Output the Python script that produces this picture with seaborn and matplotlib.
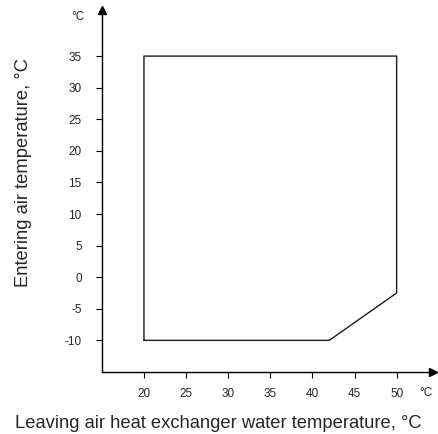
import matplotlib
matplotlib.use("Agg")
import matplotlib.pyplot as plt
import seaborn as sns
import pandas as pd

# operating envelope corners (water temp, air temp), closed polygon
water_temp = [20, 20, 50, 50, 42, 20]
air_temp = [-10, 35, 35, -2.5, -10, -10]
x_ticks = [20, 25, 30, 35, 40, 45, 50]
y_ticks = [-10, -5, 0, 5, 10, 15, 20, 25, 30, 35]

sns.set_style("ticks")
plt.rcParams['font.family'] = ['Liberation Sans', 'DejaVu Sans']

df = pd.DataFrame({'water': water_temp, 'air': air_temp})

fig = plt.figure(figsize=(4.39, 4.34), dpi=100)
ax = fig.add_axes([0.232, 0.143, 0.754, 0.834])

sns.lineplot(data=df, x='water', y='air', sort=False, estimator=None,
             color='#1a1a1a', linewidth=1.0, ax=ax)

ax.set_xlim(15, 54.3)
ax.set_ylim(-15, 42.3)
ax.set_xticks(x_ticks)
ax.set_yticks(y_ticks)
ax.set_xticklabels([str(v) for v in x_ticks])
ax.set_yticklabels([str(v) for v in y_ticks])
ax.tick_params(axis='both', labelsize=8.5, length=4, width=0.8, color='black')
ax.tick_params(axis='y', pad=10.5)
ax.tick_params(axis='x', pad=7.5)

for s in ['top', 'right']:
    ax.spines[s].set_visible(False)
for s in ['left', 'bottom']:
    ax.spines[s].set_linewidth(1.0)
    ax.spines[s].set_color('black')

# arrow heads at the axis ends
ax.plot(1, 0, '>', color='black', markersize=6, transform=ax.transAxes, clip_on=False)
ax.plot(0, 1, '^', color='black', markersize=6, transform=ax.transAxes, clip_on=False)

# unit labels at the axis ends
ax.annotate('°C', xy=(53.5, 0), xycoords=('data', 'axes fraction'),
            xytext=(0, -15), textcoords='offset points',
            fontsize=8.5, ha='center', va='center')
ax.annotate('°C', xy=(0, 1), xycoords='axes fraction',
            xytext=(-17, -5), textcoords='offset points',
            fontsize=8.5, ha='center', va='center')

ax.set_xlabel('Leaving air heat exchanger water temperature, °C', fontsize=13.2)
ax.set_ylabel('Entering air temperature, °C', fontsize=13.2)
ax.xaxis.set_label_coords(0.353, -0.118)
ax.yaxis.set_label_coords(-0.21, 0.55)

fig.savefig('out.png', dpi=100)
